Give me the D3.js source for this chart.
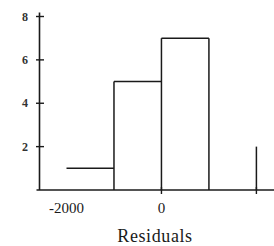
<!DOCTYPE html>
<html><head><meta charset="utf-8">
<script src="https://cdn.jsdelivr.net/npm/d3@7/dist/d3.min.js"></script>
<style>html,body{margin:0;padding:0;background:#fff;}svg{display:block;}</style>
</head><body>
<script>
// Data
const binEdges = [-2000, -1000, 0, 1000, 2000, 3000];
const counts = [1, 5, 7, 0, 2];
const yTicks = [2, 4, 6, 8];
const xTickMarks = [0, 2000];
const xTickLabels = [-2000, 0];
const xTitle = "Residuals";

const W = 274, H = 246;
const svg = d3.select("body").append("svg").attr("width", W).attr("height", H);
const x = d3.scaleLinear().domain([-2000, 2000]).range([66.5, 256.4]);
const y = d3.scaleLinear().domain([0, 8]).range([190, 16.5]);
const axisX = 39.5;
const ink = "#1a1a1a";
const font = "Liberation Serif";

// y axis line
svg.append("line").attr("x1", axisX).attr("x2", axisX).attr("y1", y(8) - 4).attr("y2", y(0))
  .attr("stroke", ink).attr("stroke-width", 1.6);
// baseline
svg.append("line").attr("x1", axisX - 3).attr("x2", W).attr("y1", y(0)).attr("y2", y(0))
  .attr("stroke", ink).attr("stroke-width", 1.6);
// y ticks
svg.selectAll(".yt").data(yTicks).enter().append("line")
  .attr("x1", axisX - 3.5).attr("x2", axisX + 4.5)
  .attr("y1", d => y(d)).attr("y2", d => y(d))
  .attr("stroke", ink).attr("stroke-width", 1.4);
svg.selectAll(".yl").data(yTicks).enter().append("text")
  .attr("x", 28).attr("y", d => y(d) + 4)
  .attr("text-anchor", "end").style("font-family", font).style("font-size", "12px")
  .style("font-weight", "bold").attr("fill", "#333").text(d => d);
// x ticks
svg.selectAll(".xt").data(xTickMarks).enter().append("line")
  .attr("x1", d => x(d)).attr("x2", d => x(d))
  .attr("y1", y(0) - 3).attr("y2", y(0) + 4)
  .attr("stroke", ink).attr("stroke-width", 1.4);
svg.selectAll(".xl").data(xTickLabels).enter().append("text")
  .attr("x", d => x(d)).attr("y", 213)
  .attr("text-anchor", "middle").style("font-family", font).style("font-size", "15px")
  .attr("fill", ink).text(d => d);
svg.append("text").attr("x", 155).attr("y", 242)
  .attr("text-anchor", "middle").style("font-family", font).style("font-size", "18px")
  .style("letter-spacing", "0.6px")
  .attr("fill", ink).text(xTitle);

// histogram: tops of bins (except last, which is cut off in the original) and interior edges
const bins = counts.map((c, i) => ({x0: binEdges[i], x1: binEdges[i + 1], c}));
const g = svg.append("g").attr("stroke", ink).attr("stroke-width", 1.5).attr("fill", "none");
bins.slice(0, bins.length - 1).filter(b => b.c > 0).forEach(b => {
  g.append("line").attr("x1", x(b.x0)).attr("x2", x(b.x1)).attr("y1", y(b.c)).attr("y2", y(b.c));
});
for (let i = 1; i < bins.length; i++) {
  const h = Math.max(bins[i - 1].c, bins[i].c);
  g.append("line").attr("x1", x(binEdges[i])).attr("x2", x(binEdges[i]))
    .attr("y1", y(h)).attr("y2", y(0));
}
</script>
</body></html>
